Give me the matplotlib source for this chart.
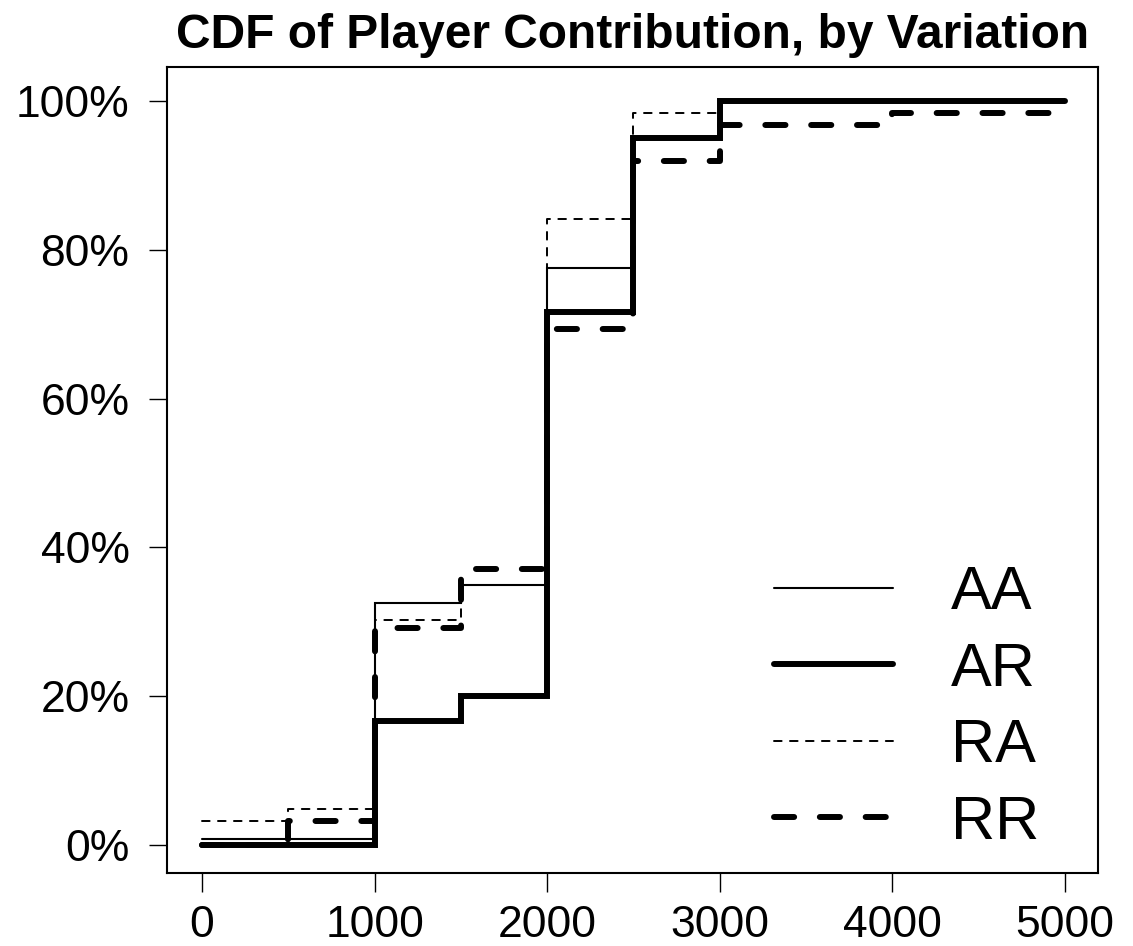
import matplotlib
matplotlib.use('Agg')
import matplotlib.pyplot as plt
from matplotlib.ticker import FuncFormatter

plt.rcParams['font.family'] = ['Liberation Sans', 'DejaVu Sans']
plt.rcParams['lines.scale_dashes'] = False

# contribution levels and cumulative share (%) per variation
contribution = [0, 500, 1000, 1500, 2000, 2500, 3000, 3500, 4000, 4500, 5000]
cdf_aa = [0.8, 0.8, 32.5, 35.0, 77.5, 95.0, 100, 100, 100, 100, 100]
cdf_ar = [0, 0, 16.7, 20.0, 71.7, 95.0, 100, 100, 100, 100, 100]
cdf_ra = [3.2, 4.8, 30.2, 35.0, 84.1, 98.4, 100, 100, 100, 100, 100]
cdf_rr = [0, 3.2, 29.1, 37.1, 69.4, 91.9, 96.8, 96.8, 98.4, 98.4, 98.4]
variations = ['AA', 'AR', 'RA', 'RR']

x_ticks = [0, 1000, 2000, 3000, 4000, 5000]
y_ticks = [0, 20, 40, 60, 80, 100]

fig = plt.figure(figsize=(11.33, 9.46), dpi=100)
ax = fig.add_axes([0.1474, 0.0772, 0.969 - 0.1474, 0.9292 - 0.0772])

styles = [
    dict(lw=1.5, ls='-'),
    dict(lw=4.3, ls='-'),
    dict(lw=1.4, ls=(0, (5.5, 6.0))),
    dict(lw=4.3, ls=(0, (14.5, 18.5))),
]
series = [cdf_aa, cdf_ar, cdf_ra, cdf_rr]
handles = []
for name, vals, st in zip(variations, series, styles):
    h, = ax.plot(contribution, vals, drawstyle='steps-post', color='black',
                 solid_capstyle='round', dash_capstyle='round',
                 solid_joinstyle='miter', label=name, **st)
    handles.append(h)

ax.set_xlim(-203, 5191)
ax.set_ylim(-3.76, 104.57)
ax.set_xticks(x_ticks)
ax.set_yticks(y_ticks)
ax.yaxis.set_major_formatter(FuncFormatter(lambda v, p: '%d%%' % v))
ax.tick_params(axis='x', length=14, width=1.0, pad=9, labelsize=32)
ax.tick_params(axis='y', length=13, width=1.0, pad=14, labelsize=32)
for s in ax.spines.values():
    s.set_linewidth(1.5)

ax.set_title('CDF of Player Contribution, by Variation', fontsize=34.5,
             fontweight='bold', pad=14)

leg = ax.legend(handles=handles, loc='lower right', frameon=False,
                fontsize=44, handlelength=1.95, handletextpad=0.95,
                labelspacing=0.32, borderaxespad=0.0,
                bbox_to_anchor=(0.963, -0.004))

fig.savefig('out.png', dpi=100)
